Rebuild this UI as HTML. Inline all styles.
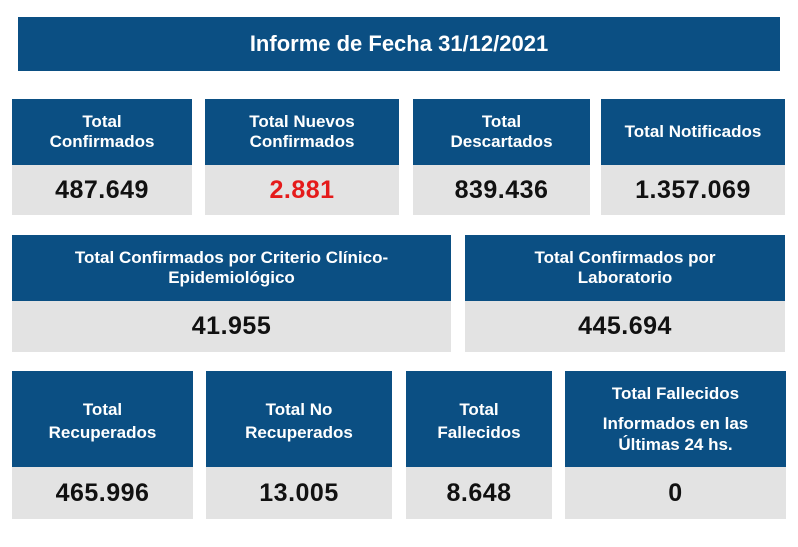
<!DOCTYPE html>
<html><head><meta charset="utf-8"><style>
body{margin:0;width:798px;height:547px;background:#fff;position:relative;overflow:hidden;font-family:"Liberation Sans",sans-serif;font-weight:bold}
.b{position:absolute;background:#0b4f83;color:#fff;display:flex;align-items:center;justify-content:center;text-align:center;font-size:17px;line-height:20px}
.g{position:absolute;background:#e3e3e3;color:#111;display:flex;align-items:center;justify-content:center;font-size:25px;letter-spacing:0.5px}
.r3{line-height:23px;padding-top:3px;box-sizing:border-box}
</style></head><body>
<div class="b" style="left:18px;top:17px;width:762px;height:54px;font-size:22px">Informe de Fecha 31/12/2021</div>

<div class="b" style="left:12px;top:99px;width:180px;height:66px">Total<br>Confirmados</div>
<div class="g" style="left:12px;top:165px;width:180px;height:50px">487.649</div>
<div class="b" style="left:205px;top:99px;width:194px;height:66px">Total Nuevos<br>Confirmados</div>
<div class="g" style="left:205px;top:165px;width:194px;height:50px;color:#e51b1b">2.881</div>
<div class="b" style="left:413px;top:99px;width:177px;height:66px">Total<br>Descartados</div>
<div class="g" style="left:413px;top:165px;width:177px;height:50px">839.436</div>
<div class="b" style="left:601px;top:99px;width:184px;height:66px">Total Notificados</div>
<div class="g" style="left:601px;top:165px;width:184px;height:50px">1.357.069</div>

<div class="b" style="left:12px;top:235px;width:439px;height:66px">Total Confirmados por Criterio Clínico-<br>Epidemiológico</div>
<div class="g" style="left:12px;top:301px;width:439px;height:51px">41.955</div>
<div class="b" style="left:465px;top:235px;width:320px;height:66px">Total Confirmados por<br>Laboratorio</div>
<div class="g" style="left:465px;top:301px;width:320px;height:51px">445.694</div>

<div class="b r3" style="left:12px;top:371px;width:181px;height:96px">Total<br>Recuperados</div>
<div class="g" style="left:12px;top:467px;width:181px;height:52px">465.996</div>
<div class="b r3" style="left:206px;top:371px;width:186px;height:96px">Total No<br>Recuperados</div>
<div class="g" style="left:206px;top:467px;width:186px;height:52px">13.005</div>
<div class="b r3" style="left:406px;top:371px;width:146px;height:96px">Total<br>Fallecidos</div>
<div class="g" style="left:406px;top:467px;width:146px;height:52px">8.648</div>
<div class="b" style="left:565px;top:371px;width:221px;height:96px;line-height:21px"><div>Total Fallecidos<div style="margin-top:9px">Informados en las<br>Últimas 24 hs.</div></div></div>
<div class="g" style="left:565px;top:467px;width:221px;height:52px">0</div>
</body></html>
